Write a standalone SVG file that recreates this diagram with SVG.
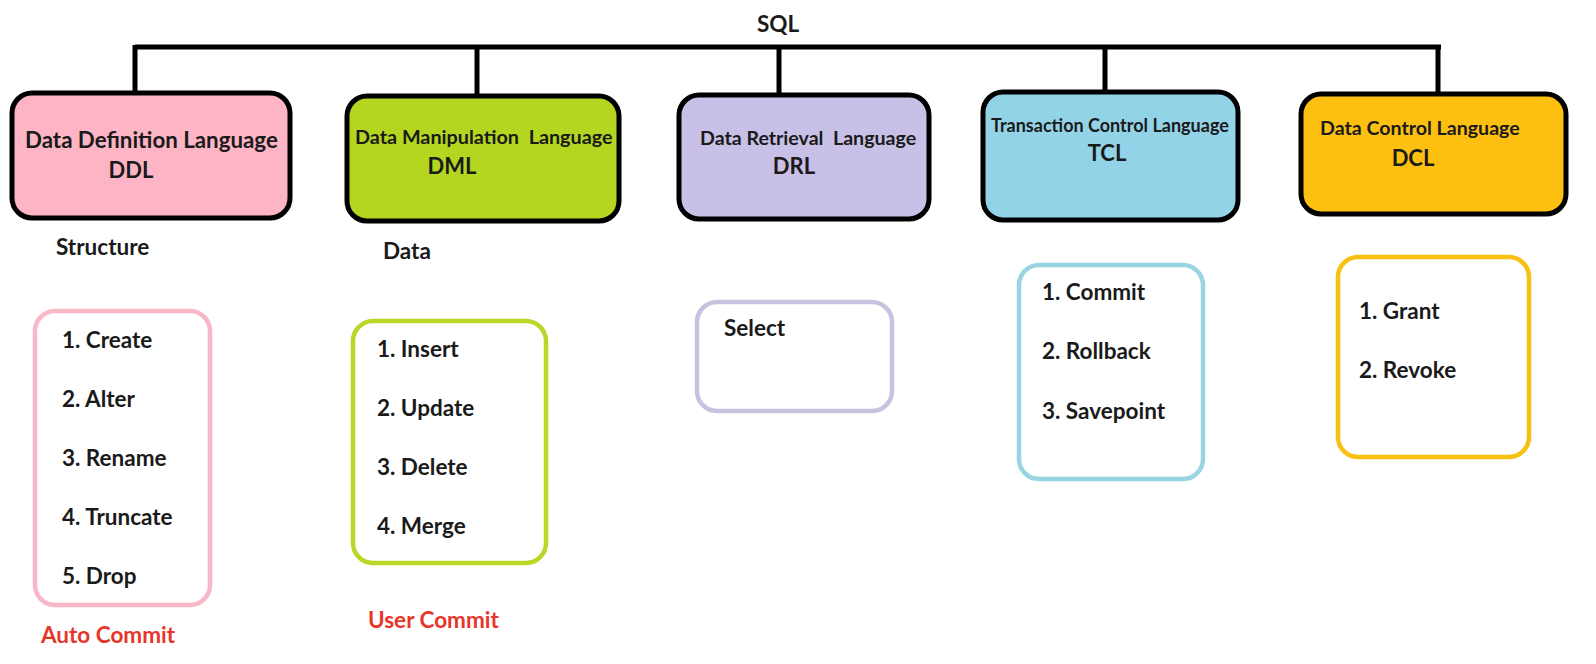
<svg xmlns="http://www.w3.org/2000/svg" width="1596" height="664" viewBox="0 0 1596 664">
<style>
text{font-family:Lato,"Open Sans","Liberation Sans",sans-serif;font-weight:bold;fill:#1a1a1a;white-space:pre}
.hdr{stroke:#000;stroke-width:5}
.lst{fill:#fff;stroke-width:4.5}
.it{font-size:22.5px}
.red{fill:#e8352a;font-size:22.5px}
.con{stroke:#000;stroke-width:5;fill:none}
</style>
<rect width="1596" height="664" fill="#fff"/>
<text x="778" y="32" font-size="22.5" text-anchor="middle">SQL</text>
<g id="connectors">
<path class="con" d="M135 47H1441"/>
<path class="con" d="M135 45V93M477 47V96M779 47V95M1105 47V92M1438 45V94"/>
</g>
<g id="ddl">
<rect class="hdr" x="12" y="93" width="278" height="125" rx="20" fill="#fdb5c5"/>
<text x="25" y="148" font-size="22.3">Data Definition Language</text>
<text x="131" y="178" font-size="22" text-anchor="middle">DDL</text>
</g>
<g id="dml">
<rect class="hdr" x="347" y="96" width="272" height="125" rx="20" fill="#b5d620"/>
<text x="355" y="144" font-size="19.8">Data Manipulation  Language</text>
<text x="452" y="174" font-size="22" text-anchor="middle">DML</text>
</g>
<g id="drl">
<rect class="hdr" x="679" y="95" width="250" height="124" rx="20" fill="#c8c0e6"/>
<text x="700" y="145" font-size="19.6">Data Retrieval  Language</text>
<text x="794" y="174" font-size="22" text-anchor="middle">DRL</text>
</g>
<g id="tcl">
<rect class="hdr" x="983" y="92" width="255" height="128" rx="20" fill="#92d3e8"/>
<text x="991" y="132" font-size="18">Transaction Control Language</text>
<text x="1107" y="161" font-size="22" text-anchor="middle">TCL</text>
</g>
<g id="dcl">
<rect class="hdr" x="1301" y="94" width="265" height="120" rx="20" fill="#fdc010"/>
<text x="1320" y="135" font-size="19.6">Data Control Language</text>
<text x="1413" y="166" font-size="22" text-anchor="middle">DCL</text>
</g>
<text x="56" y="255" font-size="22.5">Structure</text>
<text x="383" y="259" font-size="22.5">Data</text>
<g id="ddl-list">
<rect class="lst" x="35" y="311" width="175" height="294" rx="20" stroke="#f8b8c8"/>
<text class="it" x="62" y="348">1. Create</text>
<text class="it" x="62" y="407">2. Alter</text>
<text class="it" x="62" y="466">3. Rename</text>
<text class="it" x="62" y="525">4. Truncate</text>
<text class="it" x="62" y="584">5. Drop</text>
</g>
<text class="red" x="41" y="643">Auto Commit</text>
<g id="dml-list">
<rect class="lst" x="353" y="321" width="193" height="242" rx="20" stroke="#b8d828"/>
<text class="it" x="377" y="357">1. Insert</text>
<text class="it" x="377" y="416">2. Update</text>
<text class="it" x="377" y="475">3. Delete</text>
<text class="it" x="377" y="534">4. Merge</text>
</g>
<text class="red" x="368" y="628">User Commit</text>
<g id="drl-list">
<rect class="lst" x="697" y="302" width="195" height="109" rx="20" stroke="#c8c2e0"/>
<text class="it" x="724" y="336">Select</text>
</g>
<g id="tcl-list">
<rect class="lst" x="1019" y="265" width="184" height="214" rx="20" stroke="#98d4e4"/>
<text class="it" x="1042" y="300">1. Commit</text>
<text class="it" x="1042" y="359">2. Rollback</text>
<text class="it" x="1042" y="419">3. Savepoint</text>
</g>
<g id="dcl-list">
<rect class="lst" x="1338" y="257" width="191" height="200" rx="20" stroke="#f8c010"/>
<text class="it" x="1359" y="319">1. Grant</text>
<text class="it" x="1359" y="378">2. Revoke</text>
</g>
</svg>
